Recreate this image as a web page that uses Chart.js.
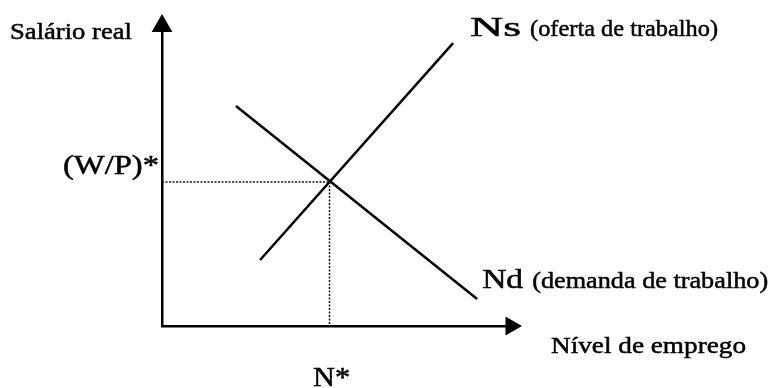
<!DOCTYPE html>
<html>
<head>
<meta charset="utf-8">
<script src="https://cdn.jsdelivr.net/npm/chart.js@4/dist/chart.umd.min.js"></script>
<style>
  html, body { margin: 0; padding: 0; background: #fff; }
  #wrap { width: 774px; height: 388px; }
</style>
</head>
<body>
<div id="wrap"><canvas id="c" width="774" height="388"></canvas></div>
<script>
// ---- data (abstract units of the diagram) ----
const xAxisMax = 10;            // Nível de emprego axis length
const yAxisMax = 10;            // Salário real axis length
const supplyX = [2.81, 8.34];   // Ns (oferta de trabalho)
const supplyY = [2.2, 9.43];
const demandX = [2.12, 9.03];   // Nd (demanda de trabalho)
const demandY = [7.33, 0.9];
const equilibrium = [4.8, 4.8]; // [N*, (W/P)*]

const yAxisTitle = 'Salário real';
const xAxisTitle = 'Nível de emprego';
const supplyName = ['Ns', '(oferta de trabalho)'];
const demandName = ['Nd', '(demanda de trabalho)'];
const eqLabels = ['N*', '(W/P)*'];

const pts = (xs, ys) => xs.map((x, i) => ({ x: x, y: ys[i] }));

const FONT = "'Liberation Serif', Tinos, 'Times New Roman', serif";

// text labels: anchor in data coords, pixel offset, size, fitted width
const textLabels = [
  { text: yAxisTitle, ax: 0, ay: yAxisMax, dx: -152, dy: 13, size: 24, w: 122 },
  { text: supplyName[0], ax: supplyX[1], ay: supplyY[1], dx: 17, dy: -7, size: 27, w: 51 },
  { text: supplyName[1], ax: supplyX[1], ay: supplyY[1], dx: 77, dy: -7, size: 24, w: 188 },
  { text: eqLabels[1], ax: 0, ay: equilibrium[1], dx: -99, dy: -8, size: 27, w: 96 },
  { text: demandName[0], ax: demandX[1], ay: demandY[1], dx: 5, dy: -11, size: 27, w: 41 },
  { text: demandName[1], ax: demandX[1], ay: demandY[1], dx: 55, dy: -11, size: 24, w: 236 },
  { text: xAxisTitle, ax: xAxisMax, ay: 0, dx: 40, dy: 27, size: 24, w: 195 },
  { text: eqLabels[0], ax: equilibrium[0], ay: 0, dx: -16.5, dy: 60, size: 28, w: 37 }
];

const labelPlugin = {
  id: 'labels',
  afterDatasetsDraw(chart) {
    const { ctx, scales: { x, y } } = chart;
    ctx.save();
    ctx.fillStyle = '#000';
    ctx.strokeStyle = '#000';
    ctx.lineWidth = 0.5;
    ctx.textBaseline = 'alphabetic';
    ctx.textAlign = 'left';
    textLabels.forEach(l => {
      ctx.font = l.size + 'px ' + FONT;
      const mw = ctx.measureText(l.text).width;
      const sx = l.w / mw;
      const px = x.getPixelForValue(l.ax) + l.dx;
      const py = y.getPixelForValue(l.ay) + l.dy;
      ctx.save();
      ctx.translate(px, py);
      ctx.scale(sx, 1);
      ctx.fillText(l.text, 0, 0);
      ctx.strokeText(l.text, 0, 0);
      ctx.restore();
    });
    ctx.restore();
  }
};

const lineDs = (data, extra) => Object.assign({
  data: data, showLine: true, borderColor: '#000', borderWidth: 2.5,
  pointRadius: 0, clip: false, tension: 0
}, extra || {});

new Chart(document.getElementById('c'), {
  type: 'scatter',
  data: {
    datasets: [
      lineDs([{ x: 0, y: equilibrium[1] }, { x: equilibrium[0], y: equilibrium[1] }],
             { borderWidth: 1.5, borderDash: [2, 1.5], borderColor: '#111' }),
      lineDs([{ x: equilibrium[0], y: equilibrium[1] }, { x: equilibrium[0], y: 0 }],
             { borderWidth: 1.5, borderDash: [2, 1.5], borderColor: '#111' }),
      lineDs(pts(supplyX, supplyY)),
      lineDs(pts(demandX, demandY)),
      { data: [{ x: 0, y: yAxisMax }], pointStyle: 'triangle', pointRadius: 12, pointRotation: 0,
        backgroundColor: '#000', borderColor: '#000', borderWidth: 0, clip: false, showLine: false },
      { data: [{ x: xAxisMax, y: 0 }], pointStyle: 'triangle', pointRadius: 11, pointRotation: 90,
        backgroundColor: '#000', borderColor: '#000', borderWidth: 0, clip: false, showLine: false }
    ]
  },
  options: {
    responsive: false,
    animation: false,
    events: [],
    layout: { padding: { left: 162, right: 263, top: 26, bottom: 62 } },
    plugins: { legend: { display: false }, tooltip: { enabled: false } },
    scales: {
      x: {
        type: 'linear', min: 0, max: xAxisMax, position: 'bottom',
        grid: { display: false }, ticks: { display: false },
        border: { display: true, color: '#000', width: 2.5 },
        afterFit(s) { s.height = 0; }
      },
      y: {
        type: 'linear', min: 0, max: yAxisMax, position: 'left',
        grid: { display: false }, ticks: { display: false },
        border: { display: true, color: '#000', width: 2.5 },
        afterFit(s) { s.width = 0; }
      }
    }
  },
  plugins: [labelPlugin]
});
</script>
</body>
</html>
